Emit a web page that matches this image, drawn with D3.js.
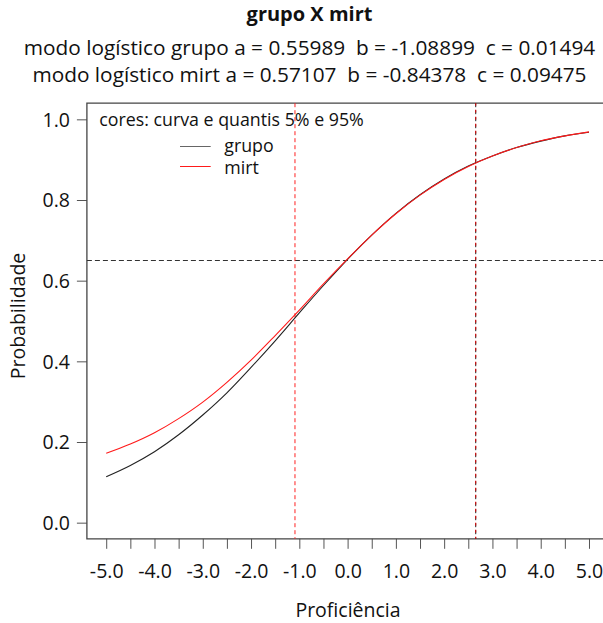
<!DOCTYPE html>
<html>
<head>
<meta charset="utf-8">
<script src="https://cdn.jsdelivr.net/npm/d3@7"></script>
<style>
  body { margin: 0; background: #fff; }
  svg text { font-family: "Open Sans", sans-serif; fill: #111; white-space: pre; }
</style>
</head>
<body>
<script>
// values
const theta = [-5, -4.5, -4, -3.5, -3, -2.5, -2, -1.5, -1, -0.5, 0,
  0.5, 1, 1.5, 2, 2.5, 3, 3.5, 4, 4.5, 5];
const grupoProb = [0.114, 0.142, 0.176, 0.218, 0.267, 0.322, 0.385, 0.451, 0.52, 0.588, 0.653,
  0.713, 0.767, 0.813, 0.852, 0.884, 0.909, 0.93, 0.946, 0.959, 0.968];
const mirtProb = [0.172, 0.195, 0.223, 0.258, 0.299, 0.348, 0.403, 0.464, 0.527, 0.592, 0.654,
  0.713, 0.766, 0.812, 0.851, 0.883, 0.909, 0.93, 0.947, 0.959, 0.969];

const xTicks = d3.range(-5, 5.01, 0.5);
const xLabelTicks = [-5, -4, -3, -2, -1, 0, 1, 2, 3, 4, 5];
const yTicks = [0, 0.2, 0.4, 0.6, 0.8, 1.0];

const refProb = 0.65;
const quantil5 = -1.09;
const quantil95 = 2.654;

const title = "grupo X mirt";
const subtitles = [
  "modo logístico grupo a = 0.55989  b = -1.08899  c = 0.01494",
  "modo logístico mirt a = 0.57107  b = -0.84378  c = 0.09475",
];

const legendLabels = ["grupo", "mirt"];
const legendColors = ["#666666", "#ff1a1a"];

const width = 603;
const height = 623;
const plotLeft = 86.9;
const plotRight = 608.3;
const plotTop = 103.2;
const plotBottom = 538.8;

const svg = d3
  .select("body")
  .append("svg")
  .attr("width", width)
  .attr("height", height);

const xScale = d3.scaleLinear().domain([-5.4, 5.4]).range([plotLeft, plotRight]);
const yScale = d3.scaleLinear().domain([-0.04, 1.04]).range([plotBottom, plotTop]);

// titles
svg
  .append("text")
  .attr("x", 309.5)
  .attr("y", 20.7)
  .attr("text-anchor", "middle")
  .attr("font-size", "20px")
  .attr("font-weight", "bold")
  .text(title);

svg
  .selectAll(".subtitle")
  .data(subtitles)
  .enter()
  .append("text")
  .attr("class", "subtitle")
  .attr("x", 309.5)
  .attr("y", (d, i) => 55 + i * 26.7)
  .attr("text-anchor", "middle")
  .attr("font-size", "20.8px")
  .text((d) => d);

// axes
const fmt = (d) => d.toFixed(1);

const xAxis = d3
  .axisBottom(xScale)
  .tickValues(xTicks)
  .tickSize(10)
  .tickPadding(4)
  .tickFormat((d) =>
    xLabelTicks.some((v) => Math.abs(v - d) < 1e-9) ? fmt(d) : ""
  );

const yAxis = d3
  .axisLeft(yScale)
  .tickValues(yTicks)
  .tickSize(10)
  .tickPadding(7)
  .tickFormat(fmt);

const gx = svg
  .append("g")
  .attr("transform", `translate(0 ${plotBottom})`)
  .call(xAxis);

const gy = svg
  .append("g")
  .attr("transform", `translate(${plotLeft} 0)`)
  .call(yAxis);

[gx, gy].forEach((g) => {
  g.select(".domain").remove();
  g.selectAll(".tick line").attr("stroke", "#555");
  g.selectAll("text").attr("font-size", "19.5px").attr("fill", "#111");
});
gx.selectAll("text").attr("dy", null).attr("y", 39.5);
gy.selectAll("text").attr("dy", "0.35em");

// box (right side falls outside the picture)
svg
  .append("path")
  .attr("d", `M${plotRight},${plotTop}H${plotLeft}V${plotBottom}H${plotRight}`)
  .attr("fill", "none")
  .attr("stroke", "#444")
  .attr("stroke-width", 1.3);

// axis titles
svg
  .append("text")
  .attr("x", 348)
  .attr("y", 617)
  .attr("text-anchor", "middle")
  .attr("font-size", "19.5px")
  .text("Proficiência");

svg
  .append("text")
  .attr("transform", "translate(25 316) rotate(-90)")
  .attr("text-anchor", "middle")
  .attr("font-size", "19.5px")
  .text("Probabilidade");

const plot = svg.append("g");

// reference lines
plot
  .append("line")
  .attr("x1", plotLeft)
  .attr("x2", plotRight)
  .attr("y1", yScale(refProb))
  .attr("y2", yScale(refProb))
  .attr("stroke", "#333")
  .attr("stroke-dasharray", "5,3");

plot
  .append("line")
  .attr("x1", xScale(quantil5))
  .attr("x2", xScale(quantil5))
  .attr("y1", plotTop)
  .attr("y2", plotBottom)
  .attr("stroke", "#ff2020")
  .attr("stroke-dasharray", "4,3");

plot
  .append("line")
  .attr("x1", xScale(quantil95))
  .attr("x2", xScale(quantil95))
  .attr("y1", plotTop)
  .attr("y2", plotBottom)
  .attr("stroke", "#222")
  .attr("stroke-dasharray", "4,3");

plot
  .append("line")
  .attr("x1", xScale(quantil95))
  .attr("x2", xScale(quantil95))
  .attr("y1", plotTop)
  .attr("y2", plotBottom)
  .attr("stroke", "#e00000")
  .attr("stroke-dasharray", "3,4")
  .attr("stroke-dashoffset", 0.5);

// curves
const curve = d3
  .line()
  .x((d) => xScale(d[0]))
  .y((d) => yScale(d[1]))
  .curve(d3.curveMonotoneX);

plot
  .append("path")
  .attr("d", curve(d3.zip(theta, grupoProb)))
  .attr("fill", "none")
  .attr("stroke", "#222")
  .attr("stroke-width", 1.1);

plot
  .append("path")
  .attr("d", curve(d3.zip(theta, mirtProb)))
  .attr("fill", "none")
  .attr("stroke", "#ff1a1a")
  .attr("stroke-width", 1.1);

// legend
const legend = svg.append("g");

legend
  .append("text")
  .attr("x", 99.3)
  .attr("y", 125.7)
  .attr("font-size", "17.8px")
  .text("cores: curva e quantis 5% e 95%");

legend
  .selectAll(".key")
  .data(legendLabels)
  .enter()
  .append("line")
  .attr("class", "key")
  .attr("x1", 180)
  .attr("x2", 210.7)
  .attr("y1", (d, i) => 146.5 + i * 20)
  .attr("y2", (d, i) => 146.5 + i * 20)
  .attr("stroke", (d, i) => legendColors[i])
  .attr("stroke-width", 1);

legend
  .selectAll(".label")
  .data(legendLabels)
  .enter()
  .append("text")
  .attr("class", "label")
  .attr("x", 224.3)
  .attr("y", (d, i) => 152 + i * 21.5)
  .attr("font-size", "17.8px")
  .text((d) => d);
</script>
</body>
</html>
